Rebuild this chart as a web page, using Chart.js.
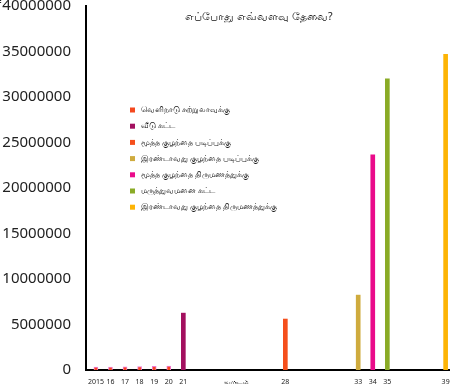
<!DOCTYPE html>
<html>
<head>
<meta charset="utf-8">
<script src="https://cdn.jsdelivr.net/npm/chart.js@4/dist/chart.umd.min.js"></script>
<style>
  html, body { margin: 0; padding: 0; background: #fff; }
  #wrap { width: 450px; height: 384px; }
</style>
</head>
<body>
<div id="wrap"><canvas id="c"></canvas></div>
<script>
const chartTitle = 'எப்போது எவ்வளவு தேவை?';
const seriesNames = [
  'வெளிநாடு சுற்றுலாவுக்கு',
  'வீடு கட்ட',
  'மூத்த குழந்தை படிப்புக்கு',
  'இரண்டாவது குழந்தை படிப்புக்கு',
  'மூத்த குழந்தை திருமணத்துக்கு',
  'மருத்துவமனை கட்ட',
  'இரண்டாவது குழந்தை திருமணத்துக்கு'
];
const seriesColors = ['#f4481e', '#a3105f', '#f54f1c', '#cfab3e', '#ea0b8a', '#8aab26', '#fdb405'];

// year, amount pairs per series
const tripYears = [2015, 2016, 2017, 2018, 2019, 2020];
const tripValues = [320000, 330000, 350000, 380000, 410000, 440000];
const houseYears = [2021];
const houseValues = [6250000];
const firstStudyYears = [2028];
const firstStudyValues = [5600000];
const secondStudyYears = [2033];
const secondStudyValues = [8230000];
const firstWeddingYears = [2034];
const firstWeddingValues = [23650000];
const hospitalYears = [2035];
const hospitalValues = [32000000];
const secondWeddingYears = [2039];
const secondWeddingValues = [34700000];

const tickYears = [2015, 2016, 2017, 2018, 2019, 2020, 2021, 2024.67, 2028, 2033, 2034, 2035, 2039];
const tickLabels = ['2015', '16', '17', '18', '19', '20', '21', 'வருடம்', '28', '33', '34', '35', '39'];

const seriesYears = [tripYears, houseYears, firstStudyYears, secondStudyYears, firstWeddingYears, hospitalYears, secondWeddingYears];
const seriesValues = [tripValues, houseValues, firstStudyValues, secondStudyValues, firstWeddingValues, hospitalValues, secondWeddingValues];

const datasets = seriesNames.map((name, i) => ({
  label: name,
  data: seriesYears[i].map((y, j) => ({ x: y, y: seriesValues[i][j] })),
  backgroundColor: seriesColors[i],
  borderColor: i === 0 ? '#f07ad0' : seriesColors[i],
  borderWidth: i === 0 ? 1 : 0,
  barThickness: 4,
  grouped: false
}));

// title + legend drawn inside the plot
const overlay = {
  id: 'overlay',
  afterDraw(chart) {
    const ctx = chart.ctx;
    ctx.save();
    ctx.fillStyle = '#111';
    ctx.font = '10.5px "Noto Sans", sans-serif';
    ctx.textAlign = 'center';
    ctx.textBaseline = 'middle';
    ctx.fillText(chartTitle, 259, 17);

    ctx.font = '8px "Noto Sans", sans-serif';
    ctx.textAlign = 'left';
    chart.data.datasets.forEach((ds, i) => {
      const y = 110 + i * 16.2;
      ctx.fillStyle = ds.backgroundColor;
      ctx.fillRect(130, y - 2.5, 5, 5);
      ctx.fillStyle = '#111';
      ctx.fillText(ds.label, 141, y);
    });
    ctx.restore();
  }
};

new Chart(document.getElementById('c'), {
  type: 'bar',
  data: { datasets },
  options: {
    responsive: true,
    maintainAspectRatio: false,
    animation: false,
    layout: { padding: { top: 6, right: 0, left: 0, bottom: 0 } },
    plugins: {
      legend: { display: false },
      tooltip: { enabled: false }
    },
    scales: {
      x: {
        type: 'linear',
        offset: false,
        min: 2014.32,
        max: 2039.3,
        grid: { display: false },
        border: { display: true, color: '#000', width: 2 },
        afterBuildTicks(scale) {
          scale.ticks = tickYears.map(v => ({ value: v }));
        },
        afterFit(scale) {
          scale.height = 14;
          scale.paddingLeft = 0;
          scale.paddingRight = 0;
        },
        ticks: {
          autoSkip: false,
          maxRotation: 0,
          padding: 0,
          color: '#222',
          font: { family: '"Liberation Sans Narrow", "Noto Sans", sans-serif', size: 7 },
          callback(value) {
            const k = tickYears.indexOf(value);
            return k >= 0 ? tickLabels[k] : '';
          }
        }
      },
      y: {
        min: 0,
        max: 40000000,
        grid: { display: false },
        border: { display: true, color: '#000', width: 2 },
        afterFit(scale) {
          scale.width = 86;
          scale.paddingTop = 0;
          scale.paddingBottom = 0;
        },
        ticks: {
          stepSize: 5000000,
          padding: 7,
          color: '#222',
          font: { family: '"Noto Sans", sans-serif', size: 15 },
          callback(value) {
            return value === 40000000 ? '₹' + value : String(value);
          }
        }
      }
    }
  },
  plugins: [overlay]
});
</script>
</body>
</html>
